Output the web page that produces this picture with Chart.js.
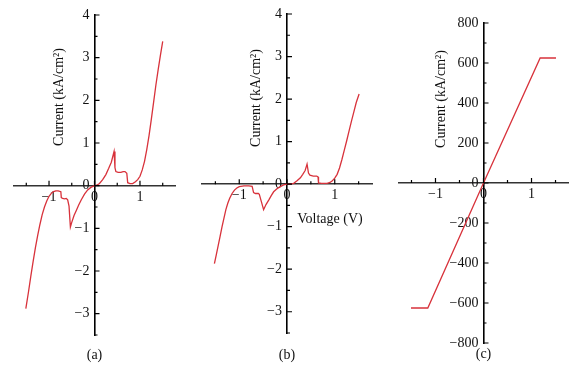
<!DOCTYPE html>
<html><head><meta charset="utf-8">
<script src="https://cdn.jsdelivr.net/npm/chart.js@4.4.0/dist/chart.umd.min.js"></script>
<style>
html,body{margin:0;padding:0;background:#fff;}
#wrap{position:relative;width:584px;height:371px;overflow:hidden;background:#fff;}
canvas{position:absolute;top:0;}
</style></head><body>
<div id="wrap">
<canvas id="ca" width="195" height="371" style="left:0px"></canvas>
<canvas id="cb" width="195" height="371" style="left:195px"></canvas>
<canvas id="cc" width="194" height="371" style="left:390px"></canvas>
</div>
<script>
// ---- data ----
const voltageA = [-1.51,-1.45,-1.40,-1.35,-1.30,-1.25,-1.20,-1.15,-1.10,-1.05,-1.00,-0.95,-0.90,-0.85,-0.80,-0.74,-0.73,-0.70,-0.66,-0.62,-0.59,-0.56,-0.53,-0.50,-0.45,-0.40,-0.35,-0.29,-0.22,-0.15,-0.08,0,0.05,0.11,0.18,0.25,0.31,0.37,0.43,0.45,0.47,0.52,0.58,0.63,0.67,0.71,0.73,0.78,0.84,0.90,0.95,1.00,1.05,1.10,1.15,1.20,1.25,1.30,1.35,1.40,1.45,1.50];
const currentA = [-2.88,-2.48,-2.12,-1.78,-1.46,-1.17,-0.91,-0.68,-0.50,-0.36,-0.25,-0.18,-0.14,-0.12,-0.12,-0.14,-0.28,-0.30,-0.31,-0.30,-0.33,-0.48,-0.97,-0.86,-0.70,-0.58,-0.46,-0.33,-0.20,-0.10,-0.04,0,0.01,0.05,0.14,0.26,0.40,0.55,0.80,0.42,0.33,0.31,0.31,0.33,0.33,0.29,0.07,0.05,0.05,0.09,0.14,0.22,0.37,0.57,0.85,1.18,1.56,1.96,2.36,2.72,3.06,3.38];

const voltageB = [-1.52,-1.48,-1.44,-1.40,-1.36,-1.32,-1.28,-1.24,-1.20,-1.15,-1.10,-1.05,-1.00,-0.90,-0.80,-0.73,-0.70,-0.66,-0.60,-0.58,-0.54,-0.49,-0.44,-0.38,-0.33,-0.28,-0.21,-0.14,-0.07,0,0.07,0.14,0.21,0.28,0.33,0.38,0.42,0.45,0.48,0.55,0.62,0.65,0.66,0.72,0.80,0.84,0.90,0.95,1.00,1.05,1.10,1.15,1.20,1.25,1.30,1.35,1.40,1.45,1.51];
const currentB = [-1.87,-1.66,-1.44,-1.22,-1.00,-0.80,-0.60,-0.45,-0.33,-0.22,-0.14,-0.09,-0.06,-0.04,-0.04,-0.05,-0.20,-0.22,-0.22,-0.24,-0.40,-0.60,-0.48,-0.37,-0.27,-0.18,-0.11,-0.06,-0.02,0,0.00,0.02,0.08,0.15,0.23,0.32,0.47,0.26,0.21,0.19,0.19,0.17,0.03,0.02,0.02,0.02,0.04,0.08,0.14,0.23,0.38,0.58,0.80,1.02,1.25,1.48,1.70,1.92,2.12];

const voltageC = [-1.51,-1.16,0,1.18,1.51];
const currentC = [-625,-625,0,625,625];

const xTickLabels = [-1,0,1];
const xMinorTicks = [-1.5,-0.5,0.5,1.5];
const yTicksAB = [-3,-2,-1,0,1,2,3,4];
const yMinorAB = [-3.5,-2.5,-1.5,-0.5,0.5,1.5,2.5,3.5];
const yTicksC = [-800,-600,-400,-200,0,200,400,600,800];
const yMinorC = [-700,-500,-300,-100,100,300,500,700];

const yTitle = 'Current (kA/cm²)';
const xTitle = 'Voltage (V)';
const panelLabels = ['(a)','(b)','(c)'];

// ---- styling / drawing ----
const FONT = '"Liberation Serif","Times New Roman",serif';
const RED = '#d8323b';
const fmt = v => (v < 0 ? '\u2212' : '') + Math.abs(v);

const extras = {
  id: 'extras',
  afterDraw(chart, args, o) {
    const ctx = chart.ctx, xs = chart.scales.x, ys = chart.scales.y;
    const x0 = xs.getPixelForValue(0), y0 = ys.getPixelForValue(0);
    ctx.save();
    ctx.strokeStyle = '#000';
    ctx.lineWidth = 1.2;
    ctx.beginPath();
    o.xMajor.forEach(v => { const p = xs.getPixelForValue(v); ctx.moveTo(p, y0); ctx.lineTo(p, y0 - 5); });
    o.xMinor.forEach(v => { const p = xs.getPixelForValue(v); ctx.moveTo(p, y0); ctx.lineTo(p, y0 - 3); });
    o.yMajor.forEach(v => { const p = ys.getPixelForValue(v); ctx.moveTo(x0, p); ctx.lineTo(x0 + 5, p); });
    o.yMinor.forEach(v => { const p = ys.getPixelForValue(v); ctx.moveTo(x0, p); ctx.lineTo(x0 + 3, p); });
    ctx.stroke();
    ctx.fillStyle = '#111';
    ctx.save();
    ctx.translate(x0 + o.yTitleDx, o.yTitleY);
    ctx.rotate(-Math.PI / 2);
    ctx.font = '14px ' + FONT;
    ctx.textAlign = 'center';
    ctx.textBaseline = 'middle';
    ctx.fillText(yTitle, 0, 0);
    ctx.restore();
    if (o.xTitle) {
      ctx.font = '14px ' + FONT;
      ctx.textAlign = 'center';
      ctx.textBaseline = 'middle';
      ctx.fillText(o.xTitle, o.xTitleX, o.xTitleY);
    }
    ctx.font = '14px ' + FONT;
    ctx.textAlign = 'center';
    ctx.textBaseline = 'middle';
    ctx.fillText(o.label, x0, o.labelY);
    ctx.restore();
  }
};

function makeChart(id, xsData, ysData, c) {
  const pts = xsData.map((v, i) => ({ x: v, y: ysData[i] }));
  return new Chart(document.getElementById(id), {
    type: 'line',
    data: { datasets: [{ data: pts, borderColor: RED, borderWidth: 1.3, pointRadius: 0, tension: 0, fill: false }] },
    options: {
      responsive: false, animation: false,
      layout: { padding: c.pad },
      plugins: { legend: { display: false }, tooltip: { enabled: false }, extras: c.extras },
      scales: {
        x: {
          type: 'linear', min: c.xmin, max: c.xmax, position: { y: 0 },
          afterBuildTicks: s => { s.ticks = xTickLabels.map(v => ({ value: v })); },
          afterFit: s => { s.height = 0; },
          grid: { display: false, drawTicks: false },
          border: { display: true, color: '#333', width: 1.5 },
          ticks: { font: { family: FONT, size: 14 }, color: '#111', padding: 3, maxRotation: 0, autoSkip: false, callback: fmt }
        },
        y: {
          type: 'linear', min: c.ymin, max: c.ymax, position: 'center',
          afterBuildTicks: s => { s.ticks = c.yTicks.map(v => ({ value: v })); },
          afterFit: s => { s.width = 0; },
          grid: { display: false, drawTicks: false },
          border: { display: true, color: '#000', width: 1.6 },
          ticks: { font: { family: FONT, size: 14 }, color: '#111', padding: 5, autoSkip: false, callback: fmt }
        }
      }
    },
    plugins: [extras]
  });
}

makeChart('ca', voltageA, currentA, {
  xmin: -1.77, xmax: 1.77, ymin: -3.5, ymax: 4, yTicks: yTicksAB,
  pad: { left: 14, right: 20, top: 15, bottom: 36 },
  extras: { xMajor: xTickLabels, xMinor: xMinorTicks, yMajor: yTicksAB, yMinor: yMinorAB, yTitleDx: -35, yTitleY: 97, label: panelLabels[0], labelY: 355 }
});
makeChart('cb', voltageB, currentB, {
  xmin: -1.78, xmax: 1.78, ymin: -3.5, ymax: 4, yTicks: yTicksAB,
  pad: { left: 7, right: 18, top: 14, bottom: 38 },
  extras: { xMajor: xTickLabels, xMinor: xMinorTicks, yMajor: yTicksAB, yMinor: yMinorAB, yTitleDx: -31, yTitleY: 98, label: panelLabels[1], labelY: 355, xTitle: xTitle, xTitleX: 135, xTitleY: 219 }
});
makeChart('cc', voltageC, currentC, {
  xmin: -1.76, xmax: 1.76, ymin: -800, ymax: 800, yTicks: yTicksC,
  pad: { left: 9, right: 16, top: 23, bottom: 28 },
  extras: { xMajor: xTickLabels, xMinor: xMinorTicks, yMajor: yTicksC, yMinor: yMinorC, yTitleDx: -42, yTitleY: 99, label: panelLabels[2], labelY: 354 }
});
</script>
</body></html>
